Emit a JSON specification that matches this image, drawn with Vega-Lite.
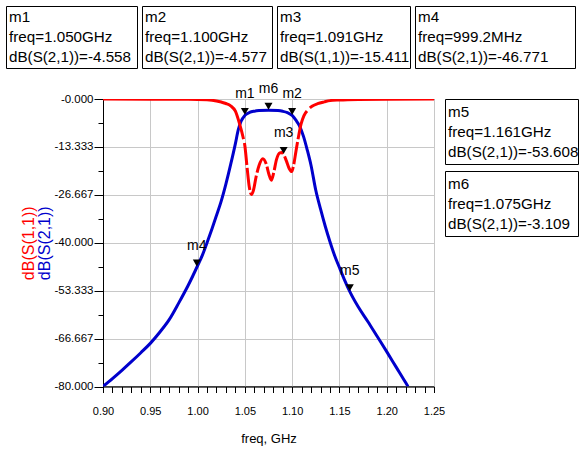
{
  "$schema": "https://vega.github.io/schema/vega-lite/v6.json",
  "padding": {"left": 5, "top": 5, "right": 5, "bottom": 5},
  "background": "white",
  "config": {
    "view": {"stroke": "black", "strokeWidth": 1},
    "font": "Liberation Sans",
    "axis": {"labelFont": "Liberation Sans", "titleFont": "Liberation Sans"},
    "text": {"font": "Liberation Sans"}
  },
  "datasets": {
    "s21": [
      {"f": 0.9, "db": -80.0}, {"f": 0.91, "db": -77.8}, {"f": 0.92, "db": -75.5}, {"f": 0.93, "db": -73.1},
      {"f": 0.94, "db": -70.6}, {"f": 0.95, "db": -68.0}, {"f": 0.96, "db": -64.9}, {"f": 0.97, "db": -61.4},
      {"f": 0.98, "db": -56.8}, {"f": 0.99, "db": -51.9}, {"f": 1.0, "db": -46.4}, {"f": 1.005, "db": -43.5},
      {"f": 1.01, "db": -40.0}, {"f": 1.015, "db": -36.3}, {"f": 1.02, "db": -32.4}, {"f": 1.025, "db": -28.4},
      {"f": 1.03, "db": -23.6}, {"f": 1.035, "db": -18.2}, {"f": 1.04, "db": -12.4}, {"f": 1.043, "db": -8.6},
      {"f": 1.046, "db": -6.2}, {"f": 1.05, "db": -4.558}, {"f": 1.055, "db": -3.75}, {"f": 1.06, "db": -3.4},
      {"f": 1.065, "db": -3.22}, {"f": 1.075, "db": -3.109}, {"f": 1.085, "db": -3.22}, {"f": 1.09, "db": -3.42},
      {"f": 1.095, "db": -3.8}, {"f": 1.1, "db": -4.577}, {"f": 1.104, "db": -5.9}, {"f": 1.108, "db": -7.6},
      {"f": 1.112, "db": -10.4}, {"f": 1.116, "db": -14.2}, {"f": 1.12, "db": -18.5}, {"f": 1.125, "db": -25.4},
      {"f": 1.13, "db": -30.6}, {"f": 1.135, "db": -35.4}, {"f": 1.14, "db": -39.7}, {"f": 1.145, "db": -43.6},
      {"f": 1.15, "db": -46.9}, {"f": 1.155, "db": -50.1}, {"f": 1.161, "db": -53.608}, {"f": 1.17, "db": -57.9},
      {"f": 1.18, "db": -61.9}, {"f": 1.19, "db": -66.1}, {"f": 1.2, "db": -70.3}, {"f": 1.21, "db": -74.6},
      {"f": 1.22, "db": -78.9}, {"f": 1.2225, "db": -80.0}
    ],
    "s11": [
      {"f": 0.9, "db": -0.02}, {"f": 0.95, "db": -0.05}, {"f": 1.0, "db": -0.12}, {"f": 1.01, "db": -0.22},
      {"f": 1.02, "db": -0.55}, {"f": 1.025, "db": -0.85}, {"f": 1.03, "db": -1.25}, {"f": 1.035, "db": -1.9},
      {"f": 1.04, "db": -3.4}, {"f": 1.0445, "db": -7.0}, {"f": 1.048, "db": -10.5}, {"f": 1.05, "db": -13.0},
      {"f": 1.0523, "db": -18.9}, {"f": 1.0547, "db": -24.5}, {"f": 1.057, "db": -26.6}, {"f": 1.059, "db": -25.5},
      {"f": 1.062, "db": -21.5}, {"f": 1.065, "db": -18.5}, {"f": 1.069, "db": -16.6}, {"f": 1.0725, "db": -18.0},
      {"f": 1.0755, "db": -21.0}, {"f": 1.078, "db": -22.6}, {"f": 1.0805, "db": -20.5}, {"f": 1.0835, "db": -16.8},
      {"f": 1.087, "db": -15.0}, {"f": 1.089, "db": -14.9}, {"f": 1.091, "db": -15.411}, {"f": 1.094, "db": -17.3},
      {"f": 1.097, "db": -19.4}, {"f": 1.0995, "db": -20.2}, {"f": 1.1015, "db": -18.5}, {"f": 1.104, "db": -14.6},
      {"f": 1.1065, "db": -10.8}, {"f": 1.1094, "db": -7.0}, {"f": 1.1125, "db": -4.6}, {"f": 1.1164, "db": -3.1},
      {"f": 1.121, "db": -2.0}, {"f": 1.127, "db": -1.3}, {"f": 1.134, "db": -0.8}, {"f": 1.14, "db": -0.45},
      {"f": 1.15, "db": -0.28}, {"f": 1.17, "db": -0.12}, {"f": 1.2, "db": -0.05}, {"f": 1.25, "db": -0.02}
    ],
    "markers": [
      {"m": "m1", "f": 1.05, "db": -4.558},
      {"m": "m2", "f": 1.1, "db": -4.577},
      {"m": "m3", "f": 1.091, "db": -15.411},
      {"m": "m4", "f": 0.9992, "db": -46.771},
      {"m": "m5", "f": 1.161, "db": -53.608},
      {"m": "m6", "f": 1.075, "db": -3.109}
    ],
    "boxes": [
      {"box": "m1", "line": 0, "text": "m1"}, {"box": "m1", "line": 1, "text": "freq=1.050GHz"}, {"box": "m1", "line": 2, "text": "dB(S(2,1))=-4.558"},
      {"box": "m2", "line": 0, "text": "m2"}, {"box": "m2", "line": 1, "text": "freq=1.100GHz"}, {"box": "m2", "line": 2, "text": "dB(S(2,1))=-4.577"},
      {"box": "m3", "line": 0, "text": "m3"}, {"box": "m3", "line": 1, "text": "freq=1.091GHz"}, {"box": "m3", "line": 2, "text": "dB(S(1,1))=-15.411"},
      {"box": "m4", "line": 0, "text": "m4"}, {"box": "m4", "line": 1, "text": "freq=999.2MHz"}, {"box": "m4", "line": 2, "text": "dB(S(2,1))=-46.771"},
      {"box": "m5", "line": 0, "text": "m5"}, {"box": "m5", "line": 1, "text": "freq=1.161GHz"}, {"box": "m5", "line": 2, "text": "dB(S(2,1))=-53.608"},
      {"box": "m6", "line": 0, "text": "m6"}, {"box": "m6", "line": 1, "text": "freq=1.075GHz"}, {"box": "m6", "line": 2, "text": "dB(S(2,1))=-3.109"}
    ]
  },
  "bounds": "full",
  "spacing": 12,
  "vconcat": [
    {
      "bounds": "flush",
      "spacing": 5,
      "hconcat": [
        {"width": 131, "height": 62, "data": {"name": "boxes"}, "transform": [{"filter": "datum.box == 'm1'"}],
         "mark": {"type": "text", "align": "left", "baseline": "middle", "dx": 3, "fontSize": 15.2, "color": "black"},
         "encoding": {"x": {"datum": 0, "type": "quantitative", "scale": {"domain": [0, 1]}, "axis": null},
                      "y": {"field": "line", "type": "ordinal", "scale": {"type": "point", "padding": 0.58}, "axis": null},
                      "text": {"field": "text"}}},
        {"width": 130, "height": 62, "data": {"name": "boxes"}, "transform": [{"filter": "datum.box == 'm2'"}],
         "mark": {"type": "text", "align": "left", "baseline": "middle", "dx": 3, "fontSize": 15.2, "color": "black"},
         "encoding": {"x": {"datum": 0, "type": "quantitative", "scale": {"domain": [0, 1]}, "axis": null},
                      "y": {"field": "line", "type": "ordinal", "scale": {"type": "point", "padding": 0.58}, "axis": null},
                      "text": {"field": "text"}}},
        {"width": 133, "height": 62, "data": {"name": "boxes"}, "transform": [{"filter": "datum.box == 'm3'"}],
         "mark": {"type": "text", "align": "left", "baseline": "middle", "dx": 3, "fontSize": 15.2, "color": "black"},
         "encoding": {"x": {"datum": 0, "type": "quantitative", "scale": {"domain": [0, 1]}, "axis": null},
                      "y": {"field": "line", "type": "ordinal", "scale": {"type": "point", "padding": 0.58}, "axis": null},
                      "text": {"field": "text"}}},
        {"width": 160, "height": 62, "data": {"name": "boxes"}, "transform": [{"filter": "datum.box == 'm4'"}],
         "mark": {"type": "text", "align": "left", "baseline": "middle", "dx": 3, "fontSize": 15.2, "color": "black"},
         "encoding": {"x": {"datum": 0, "type": "quantitative", "scale": {"domain": [0, 1]}, "axis": null},
                      "y": {"field": "line", "type": "ordinal", "scale": {"type": "point", "padding": 0.58}, "axis": null},
                      "text": {"field": "text"}}}
      ]
    },
    {
      "bounds": "flush",
      "spacing": 11,
      "hconcat": [
        {"width": 86, "height": 287.5, "view": {"stroke": null}, "data": {"values": []}, "mark": {"type": "point", "opacity": 0}, "encoding": {}},
        {
          "width": 331,
          "height": 287.5,
          "resolve": {"axis": {"y": "independent", "x": "independent"}},
          "layer": [
            {
              "data": {"name": "s21"},
              "mark": {"type": "line", "color": "#0000cc", "strokeWidth": 3, "interpolate": "monotone", "clip": true},
              "encoding": {
                "x": {"field": "f", "type": "quantitative",
                      "scale": {"domain": [0.9, 1.25], "nice": false, "zero": false},
                      "axis": {"orient": "bottom", "title": "freq, GHz",
                               "values": [0.9, 0.95, 1.0, 1.05, 1.1, 1.15, 1.2, 1.25],
                               "format": ".2f",
                               "grid": true, "gridColor": "#c8c8c8",
                               "tickSize": 6, "tickColor": "black", "domainColor": "black",
                               "labelFontSize": 11, "labelColor": "black", "labelPadding": 13,
                               "labelFlush": false, "labelOverlap": false,
                               "titleFontSize": 13, "titleFontWeight": "normal", "titleColor": "black", "titlePadding": 16}},
                "y": {"field": "db", "type": "quantitative",
                      "scale": {"domain": [-80, 0], "nice": false, "zero": false},
                      "axis": {"orient": "left",
                               "values": [-80, -66.6667, -53.3333, -40, -26.6667, -13.3333, 0],
                               "labelExpr": "datum.value > -0.001 ? '-0.000' : replace(format(datum.value, '.3f'), '\u2212', '-')",
                               "grid": true, "gridColor": "#c8c8c8",
                               "tickSize": 9, "tickColor": "black", "domainColor": "black",
                               "labelFontSize": 11.5, "labelColor": "black", "labelPadding": 1,
                               "labelFlush": false, "labelOverlap": false,
                               "title": "dB(S(2,1))", "titleColor": "#0000cc", "titleFontSize": 16,
                               "titleFontWeight": "normal", "titlePadding": 1}}
              }
            },
            {
              "data": {"name": "s11"},
              "mark": {"type": "line", "color": "#ff0000", "strokeWidth": 3, "interpolate": "monotone", "clip": true,
                       "strokeDash": [165, 4, 22, 3, 22, 3, 22, 3, 22, 3, 22, 3, 22, 3, 22, 3, 22, 3, 30, 4, 800]},
              "encoding": {
                "x": {"field": "f", "type": "quantitative",
                      "scale": {"domain": [0.9, 1.25], "nice": false, "zero": false},
                      "axis": {"orient": "bottom", "title": null,
                               "values": [0.91,0.92,0.93,0.94,0.96,0.97,0.98,0.99,1.01,1.02,1.03,1.04,1.06,1.07,1.08,1.09,1.11,1.12,1.13,1.14,1.16,1.17,1.18,1.19,1.21,1.22,1.23,1.24],
                               "labels": false, "grid": false, "domain": false,
                               "tickSize": 6, "tickColor": "black"}},
                "y": {"field": "db", "type": "quantitative",
                      "scale": {"domain": [-80, 0], "nice": false, "zero": false},
                      "axis": {"orient": "left",
                               "values": [-73.3333, -60, -46.6667, -33.3333, -20, -6.6667],
                               "labels": false, "grid": false, "domain": false,
                               "tickSize": 5, "tickColor": "black",
                               "title": "dB(S(1,1))", "titleColor": "#ff0000", "titleFontSize": 16,
                               "titleFontWeight": "normal", "titlePadding": 61}}
              }
            },
            {
              "data": {"name": "markers"},
              "mark": {"type": "point", "shape": "triangle-down", "filled": true, "color": "black", "opacity": 1, "size": 64, "yOffset": -4},
              "encoding": {
                "x": {"field": "f", "type": "quantitative", "scale": {"domain": [0.9, 1.25], "nice": false, "zero": false}, "axis": null},
                "y": {"field": "db", "type": "quantitative", "scale": {"domain": [-80, 0], "nice": false, "zero": false}, "axis": null}
              }
            },
            {
              "data": {"name": "markers"},
              "mark": {"type": "text", "fontSize": 14, "color": "black", "baseline": "middle", "yOffset": -21},
              "encoding": {
                "x": {"field": "f", "type": "quantitative", "scale": {"domain": [0.9, 1.25], "nice": false, "zero": false}, "axis": null},
                "y": {"field": "db", "type": "quantitative", "scale": {"domain": [-80, 0], "nice": false, "zero": false}, "axis": null},
                "text": {"field": "m"}
              }
            }
          ]
        },
        {
          "bounds": "flush",
          "spacing": 7,
          "vconcat": [
            {"width": 133, "height": 65, "data": {"name": "boxes"}, "transform": [{"filter": "datum.box == 'm5'"}],
             "mark": {"type": "text", "align": "left", "baseline": "middle", "dx": 3, "fontSize": 15.2, "color": "black"},
             "encoding": {"x": {"datum": 0, "type": "quantitative", "scale": {"domain": [0, 1]}, "axis": null},
                          "y": {"field": "line", "type": "ordinal", "scale": {"type": "point", "padding": 0.625}, "axis": null},
                          "text": {"field": "text"}}},
            {"width": 133, "height": 65, "data": {"name": "boxes"}, "transform": [{"filter": "datum.box == 'm6'"}],
             "mark": {"type": "text", "align": "left", "baseline": "middle", "dx": 3, "fontSize": 15.2, "color": "black"},
             "encoding": {"x": {"datum": 0, "type": "quantitative", "scale": {"domain": [0, 1]}, "axis": null},
                          "y": {"field": "line", "type": "ordinal", "scale": {"type": "point", "padding": 0.625}, "axis": null},
                          "text": {"field": "text"}}}
          ]
        }
      ]
    }
  ]
}
